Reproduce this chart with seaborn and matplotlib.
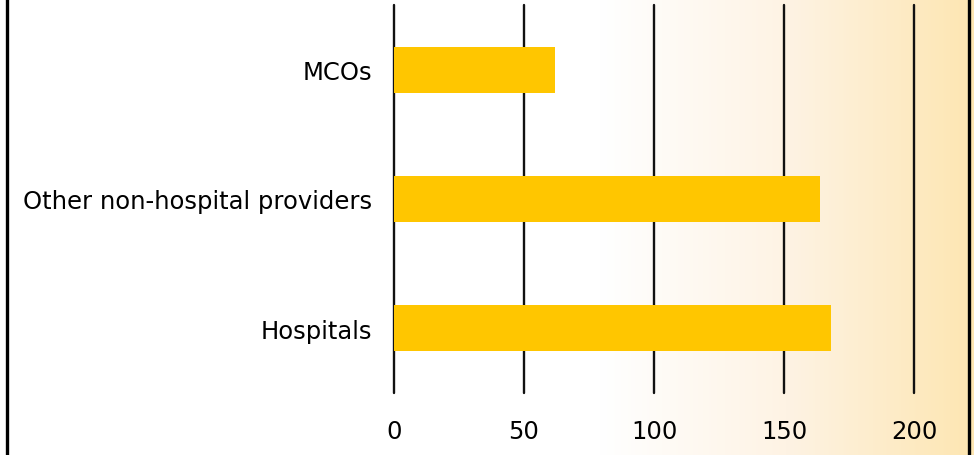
import numpy as np
import pandas as pd
import matplotlib
matplotlib.use("Agg")
import matplotlib.pyplot as plt
import seaborn as sns
from matplotlib.colors import LinearSegmentedColormap

categories = ["MCOs", "Other non-hospital providers", "Hospitals"]
values = [62, 164, 168]
xticks = [0, 50, 100, 150, 200]

sns.set_theme(style="white")
plt.rcParams['font.family'] = ['DejaVu Sans']

W, H = 974, 456
fig = plt.figure(figsize=(W / 100, H / 100), dpi=100)

# background gradient
bg = fig.add_axes([0, 0, 1, 1], zorder=0)
xs = np.linspace(0, 1, 600)
start = 600 / W
t = np.clip((xs - start) / (1 - start), 0, 1)
grad = np.tile(t, (2, 1))
cmap = LinearSegmentedColormap.from_list("g", ["#FFFFFF", "#FEF3E4", "#FDE6B2"])
bg.imshow(grad, aspect="auto", cmap=cmap, extent=[0, 1, 0, 1], vmin=0, vmax=1)
bg.set_xlim(0, 1)
bg.set_ylim(0, 1)
bg.axis("off")

left, right, top, bottom = 394, 967, 6, 394
ax = fig.add_axes([left / W, 1 - bottom / H, (right - left) / W, (bottom - top) / H], zorder=1)
ax.patch.set_alpha(0)

df = pd.DataFrame({"category": categories, "value": values})
sns.barplot(data=df, x="value", y="category", orient="h", color="#FFC600",
            saturation=1, width=0.356, ax=ax, zorder=3, linewidth=0, edgecolor="none")

xmax = (right - left) / 2.6
ax.set_xlim(0, xmax)
ax.set_ylim(2.5, -0.5)
ax.set_xticks(xticks)
ax.set_xticklabels([str(v) for v in xticks])
for v in xticks:
    ax.axvline(v, color="#111111", lw=1.7, zorder=2, clip_on=False)
for s in ax.spines.values():
    s.set_visible(False)
ax.set_xlabel("")
ax.set_ylabel("")
ax.tick_params(axis="x", length=0, pad=19, labelsize=17.5, colors="#000000")
ax.tick_params(axis="y", length=0, pad=16, labelsize=17.5, colors="#000000")
ax.grid(False)

# side borders
fig.add_artist(plt.Line2D([6.5 / W, 6.5 / W], [0, 1], color="black", lw=2.4, transform=fig.transFigure, zorder=5))
fig.add_artist(plt.Line2D([968.5 / W, 968.5 / W], [0, 1], color="black", lw=2.4, transform=fig.transFigure, zorder=5))

fig.savefig("out.png", dpi=100)
